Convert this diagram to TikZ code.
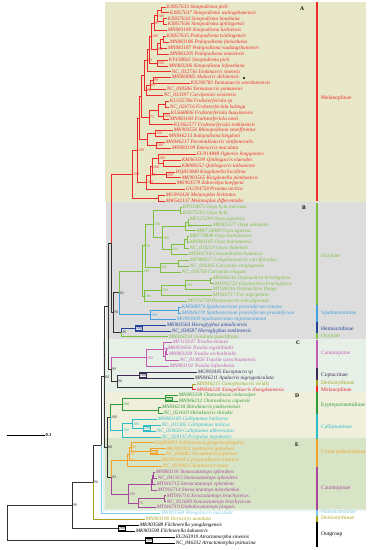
\documentclass[tikz,border=0pt]{standalone}
\usepackage{fontspec}
\setmainfont{Liberation Serif}
\usetikzlibrary{calc}
\definecolor{bgA}{HTML}{E8E8C8}
\definecolor{bgB}{HTML}{DDDDDD}
\definecolor{bgC}{HTML}{E7F0E6}
\definecolor{bgD}{HTML}{F0EFDC}
\definecolor{bgE}{HTML}{D7E4C5}
\definecolor{cR}{HTML}{EE2A2A}
\definecolor{cG}{HTML}{7DBF3F}
\definecolor{cSp}{HTML}{3FA0DC}
\definecolor{cHe}{HTML}{23429A}
\definecolor{cCat}{HTML}{C25AB2}
\definecolor{cCatE}{HTML}{A8479E}
\definecolor{cCop}{HTML}{3B2A52}
\definecolor{cDer}{HTML}{A9A21C}
\definecolor{cEy}{HTML}{2F9A3A}
\definecolor{cCal}{HTML}{2CBCC8}
\definecolor{cCyr}{HTML}{F4A12B}
\definecolor{cHab}{HTML}{7FCBEA}
\definecolor{cK}{HTML}{333333}
\tikzset{
 leaf/.style={anchor=west,inner sep=0.6pt,font=\fontsize{5.2}{5.5}\selectfont\itshape,text height=3.4pt,text depth=0.9pt},
 br/.style={line width=0.8pt},
 bs/.style={anchor=west,inner sep=0.4pt,xshift=0.4pt,font=\fontsize{4}{4}\selectfont\itshape},
 bsb/.style={bs,draw,line width=0.4pt,inner sep=0.5pt},
 sub/.style={anchor=west,inner sep=0pt,font=\fontsize{5.5}{5.5}\selectfont},
 bar/.style={line width=1.1pt},
 clet/.style={font=\fontsize{5.5}{6}\selectfont\bfseries,inner sep=0pt},
}
\newcommand\mkleaf[5]{\node[leaf,text=#4] (#1) at (#3,{7+(#2-1)*5.89}) {#5};}
\newcommand\mkjoin[6]{\path let \p1=($(#3)!.5!(#4)$) in coordinate (#1) at (#2pt,\y1);
 \draw[br,#5] (#1) |- (#3); \draw[br,#6] (#1) |- (#4);}
\newcommand\mkbs[3]{\node[bs,text=#3] (b#1) at (#1) {#2};}
\newcommand\mkbsb[3]{\node[bsb,text=#3,draw=#3] (b#1) at (#1) {#2};}
\newcommand\mkbar[6]{\draw[bar,#4] (317,#2) -- (317,#3); \node[sub,text=#4] (#1) at (321,#5) {#6};}
\begin{document}
\begin{tikzpicture}[x=1pt,y=-1pt]
\useasboundingbox (0,0) rectangle (369,550);
\fill[white] (0,0) rectangle (369,550);
% backgrounds
\fill[bgA] (105,2) rectangle (366,202);
\fill[bgB] (106,202) rectangle (366,339);
\fill[bgC] (103,339) rectangle (366,511);
\fill[bgD] (106,392) rectangle (366,438);
\fill[bgE] (105,438) rectangle (366,509);
% leaves A
\mkleaf{L1}{1}{166}{cR}{KX857633 Sinopodisma pieli}
\mkleaf{L2}{2}{169}{cR}{KX857637 Sinopodisma wulingshanensis}
\mkleaf{L3}{3}{167}{cR}{KX857634 Sinopodisma houshana}
\mkleaf{L4}{4}{167}{cR}{KX857636 Sinopodisma qinlingensis}
\mkleaf{L5}{5}{167}{cR}{MN083189 Sinopodisma lushiensis}
\mkleaf{L6}{6}{166}{cR}{KX857635 Pedopodisma tsinlingensis}
\mkleaf{L7}{7}{169}{cR}{MN083186 Pedopodisma funiushana}
\mkleaf{L8}{8}{167}{cR}{MN083187 Pedopodisma wudangshanensis}
\mkleaf{L9}{9}{169}{cR}{MN083205 Pedopodisma emeiensis}
\mkleaf{L10}{10}{168}{cR}{KY438063 Sinopodisma pieli}
\mkleaf{L11}{11}{168}{cR}{MN083206 Sinopodisma lofaoshana}
\mkleaf{L12}{12}{171}{cR}{NC\_032736 Tonkinacris sinensis}
\mkleaf{L13}{13}{171}{cR}{MN083085 Alulacris shilinensis}
\mkleaf{L14}{14}{190}{cR}{KX296783 Yunnanacris wenshanensis}
\mkleaf{L15}{15}{166}{cR}{NC\_030586 Yunnanacris yunnaneus}
\mkleaf{L16}{16}{163}{cR}{NC\_033397 Curvipennis wixiensis}
\mkleaf{L17}{17}{169}{cR}{KU355786 Fruhstorferiola sp}
\mkleaf{L18}{18}{169}{cR}{NC\_026716 Fruhstorferiola kulinga}
\mkleaf{L19}{19}{170}{cR}{KU668836 Fruhstorferiola huayinensis}
\mkleaf{L20}{20}{169}{cR}{MN083184 Fruhstorferiola omei}
\mkleaf{L21}{21}{173}{cR}{KU962577 Fruhstorferiola tonkinensis}
\mkleaf{L22}{22}{173}{cR}{MK903556 Rhinopodisma emeiffrontus}
\mkleaf{L23}{23}{168}{cR}{MN046213 Indopodisma kingdoni}
\mkleaf{L24}{24}{165}{cR}{MN046217 Paratonkinacris vittifemoralis}
\mkleaf{L25}{25}{171}{cR}{MN083199 Emeiacris maculata}
\mkleaf{L26}{26}{196}{cR}{EU914848 Ognevia longipennis}
\mkleaf{L27}{27}{181}{cR}{KM363599 Qinlingacris elaeodes}
\mkleaf{L28}{28}{181}{cR}{KR080252 Qinlingacris taibaiensis}
\mkleaf{L29}{29}{175}{cR}{HQ833840 Kingdonella bicollina}
\mkleaf{L30}{30}{181}{cR}{MK903565 Kingdonella pienbaensis}
\mkleaf{L31}{31}{176}{cR}{MK903579 Zubovskya koeppeni}
\mkleaf{L32}{32}{185}{cR}{GU294758 Prumna arctica}
\mkleaf{L33}{33}{165}{cR}{MG993426 Melanoplus bivittatus}
\mkleaf{L34}{34}{165}{cR}{MW542137 Melanoplus differentialis}
% leaves B
\mkleaf{L35}{35}{182}{cG}{KP313875 Oxya hyla intricata}
\mkleaf{L36}{36}{182}{cG}{KX673203 Oxya hyla}
\mkleaf{L37}{37}{189}{cG}{MF125299 Oxya japonica}
\mkleaf{L38}{38}{212}{cG}{MK903577 Oxya adentata}
\mkleaf{L39}{39}{196}{cG}{MW718849 Oxya agavisa}
\mkleaf{L40}{40}{189}{cG}{MH778848 Oxya hainanensis}
\mkleaf{L41}{41}{189}{cG}{MN083185 Oxya hainanensis}
\mkleaf{L42}{42}{189}{cG}{NC\_010219 Oxya chinensis}
\mkleaf{L43}{43}{188}{cG}{MT916718 Caryandoides hunanica}
\mkleaf{L44}{44}{189}{cG}{MF989227 Longchuanacris curvifurculus}
\mkleaf{L45}{45}{189}{cG}{NC\_036165 Caryanda xinqingensis}
\mkleaf{L46}{46}{181}{cG}{NC\_036758 Caryanda elegans}
\mkleaf{L47}{47}{212}{cG}{MN046216 Oxytauchira brachyptera}
\mkleaf{L48}{48}{214}{cG}{MT916722 Oxytauchira brachyptera}
\mkleaf{L49}{49}{212}{cG}{MT928116 Oxytauchira flange}
\mkleaf{L50}{50}{212}{cG}{MT916717 Fer nigripennis}
\mkleaf{L51}{51}{187}{cG}{MT916720 Paratonacris reticulipennis}
\mkleaf{L52}{52}{181}{cSp}{KM588074 Spathosternum prasiniferum sinense}
\mkleaf{L53}{53}{181}{cSp}{MN046219 Spathosternum prasiniferum prasiniferum}
\mkleaf{L54}{54}{176}{cSp}{MG993439 Spathosternum nigrotaeniatum}
\mkleaf{L55}{55}{166}{cHe}{MK903564 Hieroglyphus annulicornis}
\mkleaf{L56}{56}{171}{cHe}{NC\_030587 Hieroglyphus tonkinensis}
\mkleaf{L57}{57}{168}{cG}{MN046214 Gesonula punctifrons}
% leaves C
\mkleaf{L58}{58}{172}{cCat}{MF113247 Traulia minuta}
\mkleaf{L59}{59}{167}{cCat}{MK059456 Traulia nigritibialis}
\mkleaf{L60}{60}{168}{cCat}{MN083209 Traulia orchotibialis}
\mkleaf{L61}{61}{179}{cCat}{NC\_013826 Traulia szetschuanensis}
\mkleaf{L62}{62}{169}{cCat}{MN083192 Traulia lofaoshana}
\mkleaf{L63}{63}{197}{cCop}{MG993445 Eucoptacra sp}
\mkleaf{L64}{64}{194}{cCop}{MN046211 Apalacris nigrogeniculata}
\mkleaf{L65}{65}{196}{cDer}{MN046215 Conophymacris viridis}
\mkleaf{L66}{66}{196}{cR}{MN046220 Xiangelilacris zhongdianensis}
% leaves D
\mkleaf{L67}{67}{178}{cEy}{MN083338 Choroedocus violaceipes}
\mkleaf{L68}{68}{178}{cEy}{MN046212 Choroedocus capensis}
\mkleaf{L69}{69}{161}{cEy}{MN046218 Shirakiacris yunkweiensis}
\mkleaf{L70}{70}{163}{cEy}{NC\_021610 Shirakiacris shirakii}
\mkleaf{L71}{71}{157}{cCal}{MN083183 Calliptamus barbarus}
\mkleaf{L72}{72}{161}{cCal}{NC\_011305 Calliptamus italicus}
\mkleaf{L73}{73}{156}{cCal}{NC\_030626 Calliptamus abbreviatus}
\mkleaf{L74}{74}{161}{cCal}{NC\_029135 Peripolus nepalensis}
% leaves E
\mkleaf{L75}{75}{154}{cCyr}{GQ491031 Schistocerca gregaria gregaria}
\mkleaf{L76}{76}{166}{cCyr}{MG993413 Austracris guttulosa}
\mkleaf{L77}{77}{165}{cCyr}{NC\_036082 Nomadacris japonica}
\mkleaf{L78}{78}{161}{cCyr}{MG993444 Cyrtacanthacris tatarica}
\mkleaf{L79}{79}{162}{cCyr}{NC\_013993 Chondracris rosea}
\mkleaf{L80}{80}{155}{cCatE}{MN083191 Stenocatantops splendens}
\mkleaf{L81}{81}{157}{cCatE}{NC\_041315 Stenocatantops splendens}
\mkleaf{L82}{82}{156}{cCatE}{MT916715 Stenocatantops splendens}
\mkleaf{L83}{83}{157}{cCatE}{MT916714 Stenocatantops mistshenkoi}
\mkleaf{L84}{84}{166}{cCatE}{MT916716 Xenocatantops brachycerus}
\mkleaf{L85}{85}{166}{cCatE}{NC\_021609 Xenocatantops brachycerus}
\mkleaf{L86}{86}{156}{cCatE}{MT916719 Diabolocatantops pinguis}
\mkleaf{L87}{87}{160}{cHab}{MK903568 Mongolacris maculata}
\mkleaf{L88}{88}{145}{cDer}{MN083190 Dericorys annulata}
\mkleaf{L89}{89}{139}{black}{MK903588 Filchnerella yongdengensis}
\mkleaf{L90}{90}{135}{black}{MK903590 Filchnerella kukunoris}
\mkleaf{L91}{91}{175}{black}{EU263919 Atractomorpha sinensis}
\mkleaf{L92}{92}{175}{black}{NC\_046332 Atractomorpha psittacina}
\node[circle,fill=black,inner sep=0pt,minimum size=2.2pt] (dot) at (244,78) {};
% joins A
\mkjoin{a12}{161}{L1.west}{L2.west}{cR}{cR}
\mkjoin{a34}{163}{L3.west}{L4.west}{cR}{cR}
\mkjoin{a1234}{157}{a12}{a34}{cR}{cR}
\mkjoin{a15}{154}{a1234}{L5.west}{cR}{cR}
\mkjoin{a67}{163}{L6.west}{L7.west}{cR}{cR}
\mkjoin{a678}{160}{a67}{L8.west}{cR}{cR}
\mkjoin{a69}{157}{a678}{L9.west}{cR}{cR}
\mkjoin{a19}{151}{a15}{a69}{cR}{cR}
\mkjoin{a1011}{157}{L10.west}{L11.west}{cR}{cR}
\mkjoin{a111}{149}{a19}{a1011}{cR}{cR}
\mkjoin{a112}{147}{a111}{L12.west}{cR}{cR}
\mkjoin{a1314}{153}{L13.west}{L14.west}{cR}{cR}
\mkjoin{a1315}{150}{a1314}{L15.west}{cR}{cR}
\mkjoin{a1316}{146}{a1315}{L16.west}{cR}{cR}
\mkjoin{a116}{144}{a112}{a1316}{cR}{cR}
\mkjoin{a1718}{165}{L17.west}{L18.west}{cR}{cR}
\mkjoin{a1920}{163}{L19.west}{L20.west}{cR}{cR}
\mkjoin{a1720}{158}{a1718}{a1920}{cR}{cR}
\mkjoin{a1721}{149}{a1720}{L21.west}{cR}{cR}
\mkjoin{a121}{141}{a116}{a1721}{cR}{cR}
\mkjoin{a2223}{155}{L22.west}{L23.west}{cR}{cR}
\mkjoin{a2425}{156}{L24.west}{L25.west}{cR}{cR}
\mkjoin{a2225}{147}{a2223}{a2425}{cR}{cR}
\mkjoin{a125}{139}{a121}{a2225}{cR}{cR}
\mkjoin{q2728}{163}{L27.west}{L28.west}{cR}{cR}
\mkjoin{q2628}{158}{L26.west}{q2728}{cR}{cR}
\mkjoin{k2930}{166}{L29.west}{L30.west}{cR}{cR}
\mkjoin{q2630}{152}{q2628}{k2930}{cR}{cR}
\mkjoin{q2631}{150}{q2630}{L31.west}{cR}{cR}
\mkjoin{q2632}{146}{q2631}{L32.west}{cR}{cR}
\mkjoin{aA12}{137}{a125}{q2632}{cR}{cR}
\mkjoin{mel}{158}{L33.west}{L34.west}{cR}{cR}
\mkjoin{aroot}{132}{aA12}{mel}{cR}{cR}
% joins B
\mkjoin{b3536}{180}{L35.west}{L36.west}{cG}{cG}
\mkjoin{b3738}{188}{L37.west}{L38.west}{cG}{cG}
\mkjoin{b3739}{185}{b3738}{L39.west}{cG}{cG}
\mkjoin{b4041}{187}{L40.west}{L41.west}{cG}{cG}
\mkjoin{b4042}{184}{b4041}{L42.west}{cG}{cG}
\mkjoin{b4043}{171}{b4042}{L43.west}{cG}{cG}
\mkjoin{b3743}{162}{b3739}{b4043}{cG}{cG}
\mkjoin{b3543}{153}{b3536}{b3743}{cG}{cG}
\mkjoin{b4445}{178}{L44.west}{L45.west}{cG}{cG}
\mkjoin{b4446}{160}{b4445}{L46.west}{cG}{cG}
\mkjoin{b3546}{145}{b3543}{b4446}{cG}{cG}
\mkjoin{b4748}{210}{L47.west}{L48.west}{cG}{cG}
\mkjoin{b4749}{185}{b4748}{L49.west}{cG}{cG}
\mkjoin{b4750}{161}{b4749}{L50.west}{cG}{cG}
\mkjoin{b4751}{144}{b4750}{L51.west}{cG}{cG}
\mkjoin{bOxy}{142}{b3546}{b4751}{cG}{cG}
\mkjoin{s5253}{178}{L52.west}{L53.west}{cSp}{cSp}
\mkjoin{s5254}{150}{s5253}{L54.west}{cSp}{cSp}
\mkjoin{n82}{119}{bOxy}{s5254}{cG}{cSp}
\mkjoin{hi}{135}{L55.west}{L56.west}{cHe}{cHe}
\mkjoin{n49}{121}{hi}{L57.west}{cHe}{cG}
\mkjoin{n96}{113}{n82}{n49}{cK}{cK}
\mkjoin{nAB}{111}{aroot}{n96}{cR}{cK}
% joins C
\mkjoin{t5960}{166}{L59.west}{L60.west}{cCat}{cCat}
\mkjoin{t5961}{165}{t5960}{L61.west}{cCat}{cCat}
\mkjoin{t5861}{163}{L58.west}{t5961}{cCat}{cCat}
\mkjoin{t5862}{146}{t5861}{L62.west}{cCat}{cCat}
\mkjoin{cop}{139}{L63.west}{L64.west}{cCop}{cCop}
\mkjoin{dm}{192}{L65.west}{L66.west}{cDer}{cR}
\mkjoin{n96b}{117}{cop}{dm}{cCop}{cK}
\mkjoin{n111}{111}{t5862}{n96b}{cCat}{cK}
\mkjoin{nABC}{108}{nAB}{n111}{cK}{cK}
% joins D
\mkjoin{ch}{165}{L67.west}{L68.west}{cEy}{cEy}
\mkjoin{sh}{158}{L69.west}{L70.west}{cEy}{cEy}
\mkjoin{ey}{122}{ch}{sh}{cEy}{cEy}
\mkjoin{c7273}{143}{L72.west}{L73.west}{cCal}{cCal}
\mkjoin{c7173}{132}{L71.west}{c7273}{cCal}{cCal}
\mkjoin{c7174}{122}{c7173}{L74.west}{cCal}{cCal}
\mkjoin{nD}{110}{ey}{c7174}{cEy}{cCal}
% joins E
\mkjoin{e7677}{150}{L76.west}{L77.west}{cCyr}{cCyr}
\mkjoin{e7577}{131}{L75.west}{e7677}{cCyr}{cCyr}
\mkjoin{e7578}{129}{e7577}{L78.west}{cCyr}{cCyr}
\mkjoin{e7579}{127}{e7578}{L79.west}{cCyr}{cCyr}
\mkjoin{s8081}{153.5}{L80.west}{L81.west}{cCatE}{cCatE}
\mkjoin{s8082}{152.5}{s8081}{L82.west}{cCatE}{cCatE}
\mkjoin{s8083}{151}{s8082}{L83.west}{cCatE}{cCatE}
\mkjoin{x8485}{164}{L84.west}{L85.west}{cCatE}{cCatE}
\mkjoin{x8486}{138}{x8485}{L86.west}{cCatE}{cCatE}
\mkjoin{cat}{128}{s8083}{x8486}{cCatE}{cCatE}
\mkjoin{nE}{111}{e7579}{cat}{cCyr}{cCatE}
% backbone
\mkjoin{nDE}{107}{nD}{nE}{cK}{cK}
\mkjoin{n84}{104}{nABC}{nDE}{cK}{cK}
\mkjoin{n88}{101}{n84}{L87.west}{cK}{cHab}
\mkjoin{n93}{93}{n88}{L88.west}{cK}{cDer}
\mkjoin{fil}{118}{L89.west}{L90.west}{black}{black}
\mkjoin{nin}{72}{n93}{fil}{cK}{cK}
\mkjoin{atr}{145}{L91.west}{L92.west}{black}{black}
\mkjoin{root}{7}{nin}{atr}{cK}{cK}
% support values
\mkbs{a1234}{100}{cR}\mkbs{a15}{97}{cR}\mkbs{a69}{98}{cR}\mkbs{a19}{100}{cR}
\mkbs{a1011}{100}{cR}\mkbs{a112}{83}{cR}\mkbs{a1314}{99}{cR}\mkbs{a1315}{93}{cR}
\mkbs{a1316}{88}{cR}\mkbs{a1920}{100}{cR}\mkbs{a1721}{73}{cR}\mkbs{a2223}{100}{cR}
\mkbs{a2425}{100}{cR}\mkbs{aA12}{100}{cR}\mkbs{aroot}{100}{cR}\mkbs{q2628}{100}{cR}
\mkbs{q2630}{100}{cR}\mkbs{k2930}{100}{cR}\mkbs{q2631}{99}{cR}\mkbs{q2632}{100}{cR}
\mkbs{b3739}{100}{cG}\mkbs{b4043}{100}{cG}\mkbs{b3743}{100}{cG}\mkbs{b3543}{100}{cG}
\mkbs{b4446}{100}{cG}\mkbs{b3546}{98}{cG}\mkbs{b4749}{100}{cG}\mkbs{b4750}{100}{cG}
\mkbs{b4751}{100}{cG}\mkbs{bOxy}{100}{cG}\mkbs{s5254}{100}{cSp}\mkbs{n82}{82}{cK}
\mkbsb{hi}{100}{cHe}\mkbs{n49}{49}{cK}\mkbs{n96}{96}{cK}
\mkbs{t5861}{84}{cCat}\mkbs{t5862}{100}{cCat}\mkbsb{cop}{100}{cCop}
\mkbs{n96b}{96}{cK}\mkbs{n111}{99}{cK}
\mkbsb{ch}{100}{cEy}\mkbs{ey}{100}{cEy}\mkbsb{c7273}{100}{cCal}\mkbs{c7173}{100}{cCal}
\mkbs{c7174}{100}{cCal}\mkbs{nD}{100}{cK}
\mkbsb{e7677}{100}{cCyr}\mkbs{e7577}{90}{cCyr}\mkbs{e7578}{79}{cCyr}\mkbs{e7579}{100}{cCyr}
\mkbs{x8486}{76}{cCatE}\mkbs{cat}{100}{cCatE}\mkbs{nE}{93}{cK}
\mkbs{nDE}{88}{cK}\mkbs{n84}{84}{cK}\mkbs{n93}{96}{cK}\mkbs{nin}{99}{cK}
\mkbsb{fil}{100}{black}\mkbsb{atr}{100}{black}
% clade letters
\node[clet] (lA) at (302,9) {A};
\node[clet] (lB) at (304,208) {B};
\node[clet] (lC) at (298,343) {C};
\node[clet] (lD) at (297,396) {D};
\node[clet] (lE) at (297,445) {E};
% subfamily bars
\mkbar{s1}{2}{201}{cR}{98}{Melanoplinae}
\mkbar{s2}{203}{305}{cG}{256}{Oxyinae}
\mkbar{s3}{305}{322}{cSp}{313}{Spathosterninae}
\mkbar{s4}{322}{333}{cHe}{329}{Hemiacridinae}
\mkbar{s5}{333}{339}{cG}{336}{Oxyinae}
\mkbar{s6}{340}{368}{cCat}{353}{Catantopinae}
\mkbar{s7}{368}{380}{cCop}{375}{Coptacrinae}
\mkbar{s8}{380}{386}{cDer}{383}{Dericorythinae}
\mkbar{s9}{386}{392}{cR}{390}{Melanoplinae}
\mkbar{s10}{392}{414}{cEy}{405}{Eyprepocnemidinae}
\mkbar{s11}{414}{439}{cCal}{427}{Calliptaminae}
\mkbar{s12}{439}{467}{cCyr}{452}{Cyrtacanthacridinae}
\mkbar{s13}{467}{510}{cCatE}{488}{Catantopinae}
\mkbar{s14}{510}{516}{cHab}{512}{Habrocneminae}
\mkbar{s15}{516}{522}{cDer}{518}{Dericorythinae}
\mkbar{s16}{522}{547}{black}{534}{Outgroup}
% scale bar
\coordinate (sb1) at (7,435);
\coordinate (sb2) at (45,435);
\draw[line width=0.8pt] (sb1) -- (sb2);
\node[anchor=west,inner sep=0.5pt,font=\fontsize{4.5}{5}\selectfont\bfseries] (sbl) at (sb2) {0.1};
\end{tikzpicture}
\end{document}
